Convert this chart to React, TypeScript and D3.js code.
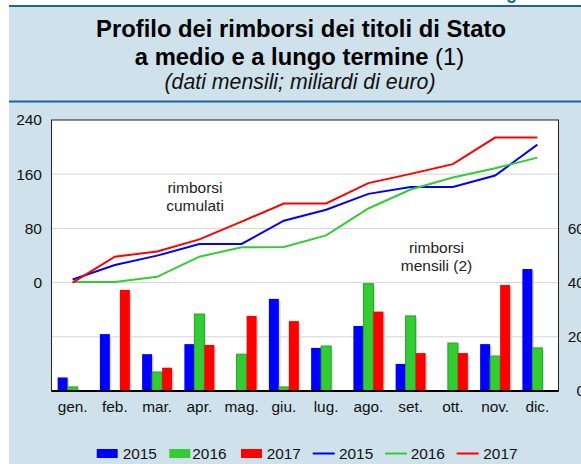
import React from 'react';
import * as d3 from 'd3';

const months = ['gen.', 'feb.', 'mar.', 'apr.', 'mag.', 'giu.', 'lug.', 'ago.', 'set.', 'ott.', 'nov.', 'dic.'];
const years = ['2015', '2016', '2017'];
const monthly2015 = [5, 21, 13.6, 17.3, 0, 34, 15.9, 24, 10, 0, 17.3, 45];
const monthly2016 = [1.5, 0, 7, 28.4, 13.6, 1.5, 16.6, 39.6, 27.7, 17.7, 12.9, 15.9];
const monthly2017 = [0, 37.3, 8.6, 17, 27.7, 25.8, 0, 29.3, 14, 14, 39.1, 0];
const cum2015 = [4.5, 26, 39.8, 57, 57, 91.3, 107.5, 131, 141, 141, 158, 203.7];
const cum2016 = [1, 1, 8.5, 38.3, 52, 52.5, 69.7, 109.4, 137.4, 155, 168.9, 184.5];
const cum2017 = [0, 38.3, 46, 63.8, 90, 116.8, 116.8, 146.8, 160.5, 174.8, 214, 214];
const leftTicks = [0, 80, 160, 240];
const gridTicks = [-80, 0, 80, 160];
const rightTicks = [0, 20, 40, 60];

const COLORS = ['#0000ff', '#33cc33', '#ff0000'];
const FONT = 'Liberation Sans, Arial, Helvetica, sans-serif';

export default function App() {
  const W = 581, H = 464;
  const L = 51.5, R = 558.5, T = 120, B = 391;
  const x = d3.scaleBand<string>().domain(months).range([L, R]).padding(0);
  const yL = d3.scaleLinear().domain([-160, 240]).range([B, T]);
  const yR = d3.scaleLinear().domain([0, 100]).range([B, T]);
  const barW = 10;
  const monthly = [monthly2015, monthly2016, monthly2017];
  const cums = [cum2015, cum2016, cum2017];
  const line = d3.line<number>()
    .x((_, i) => (x(months[i]) as number) + x.bandwidth() / 2)
    .y((d) => yL(d));

  return (
    <svg width={W} height={H} style={{ position: 'absolute', left: 0, top: 0 }} fontFamily={FONT}>
      <rect x={0} y={0} width={W} height={H} fill="#ffffff" />
      <text x={506} y={-1} fontSize={18} fontWeight="bold" fill="#1b6796">g</text>
      <rect x={9} y={5} width={W - 9} height={H - 5} fill="#cfe1eb" />
      <rect x={9} y={5} width={W - 9} height={2} fill="#1b6796" />
      <rect x={9} y={100.5} width={W - 9} height={2} fill="#1b6796" />

      <text x={301} y={36.7} textAnchor="middle" fontSize={23.8} fontWeight="bold" fill="#000">
        Profilo dei rimborsi dei titoli di Stato
      </text>
      <text x={299.5} y={64.5} textAnchor="middle" fontSize={23.8} fill="#000">
        <tspan fontWeight="bold">a medio e a lungo termine</tspan>
        <tspan> (1)</tspan>
      </text>
      <text x={300} y={88.5} textAnchor="middle" fontSize={21.3} fontStyle="italic" fill="#111">
        (dati mensili; miliardi di euro)
      </text>

      <rect x={L} y={T} width={R - L} height={B - T} fill="#ffffff" />
      {gridTicks.map((t) => (
        <line key={'g' + t} x1={L} x2={R} y1={yL(t)} y2={yL(t)} stroke="#d4d4d4" strokeWidth={1} />
      ))}

      <defs>
        <clipPath id="plotclip">
          <rect x={L} y={T} width={R - L} height={B - T} />
        </clipPath>
      </defs>
      <g clipPath="url(#plotclip)">
        {months.map((m, i) =>
          monthly.map((series, s) => {
            const v = series[i];
            if (!v) return null;
            const bx = (x(m) as number) + x.bandwidth() / 2 - 15 + s * barW;
            return (
              <rect key={'sh' + m + s} x={bx + 1.5} y={yR(v) + 1.5} width={barW} height={B - yR(v)} fill="#d8d8d8" />
            );
          })
        )}
        {months.map((m, i) =>
          monthly.map((series, s) => {
            const v = series[i];
            if (!v) return null;
            const bx = (x(m) as number) + x.bandwidth() / 2 - 15 + s * barW;
            return (
              <rect
                key={'b' + m + s}
                x={bx}
                y={yR(v)}
                width={barW}
                height={B - yR(v)}
                fill={COLORS[s]}
                stroke={s === 1 ? '#22a322' : 'none'}
                strokeWidth={s === 1 ? 1 : 0}
              />
            );
          })
        )}
        {cums.map((c, s) => (
          <path key={'l' + s} d={line(c) as string} fill="none" stroke={COLORS[s]} strokeWidth={2} />
        ))}
      </g>

      <rect x={L} y={T} width={R - L} height={B - T} fill="none" stroke="#222" strokeWidth={1} />
      <line x1={L} x2={R} y1={B} y2={B} stroke="#000" strokeWidth={2} />

      {leftTicks.map((t) => (
        <text key={'lt' + t} x={42} y={yL(t)} dy="0.35em" textAnchor="end" fontSize={15.5} fill="#111">
          {t}
        </text>
      ))}
      {rightTicks.map((t) => (
        <text key={'rt' + t} x={585} y={yR(t)} dy="0.35em" textAnchor="end" fontSize={15.5} fill="#111">
          {t}
        </text>
      ))}
      {months.map((m) => (
        <text key={'xl' + m} x={(x(m) as number) + x.bandwidth() / 2} y={411.7} textAnchor="middle" fontSize={15.4} fill="#111">
          {m}
        </text>
      ))}

      <text x={195} y={192.5} textAnchor="middle" fontSize={15.5} fill="#222">rimborsi</text>
      <text x={195} y={210.7} textAnchor="middle" fontSize={15.5} fill="#222">cumulati</text>
      <text x={436.5} y={253} textAnchor="middle" fontSize={15.5} fill="#222">rimborsi</text>
      <text x={436.5} y={271} textAnchor="middle" fontSize={15.5} fill="#222">mensili (2)</text>

      {/* legend */}
      {[96.7, 169.3, 241].map((lx, s) => (
        <g key={'lb' + s}>
          <rect x={lx} y={449} width={21} height={9} fill={COLORS[s]} />
          <text x={[122.7, 192.3, 266.7][s]} y={458.5} fontSize={15.4} fill="#111">{years[s]}</text>
        </g>
      ))}
      {[312.7, 385, 456.7].map((lx, s) => (
        <g key={'ll' + s}>
          <line x1={lx} x2={lx + 22} y1={453.5} y2={453.5} stroke={COLORS[s]} strokeWidth={2} />
          <text x={[339, 410.7, 483.3][s]} y={458.5} fontSize={15.4} fill="#111">{years[s]}</text>
        </g>
      ))}
    </svg>
  );
}
